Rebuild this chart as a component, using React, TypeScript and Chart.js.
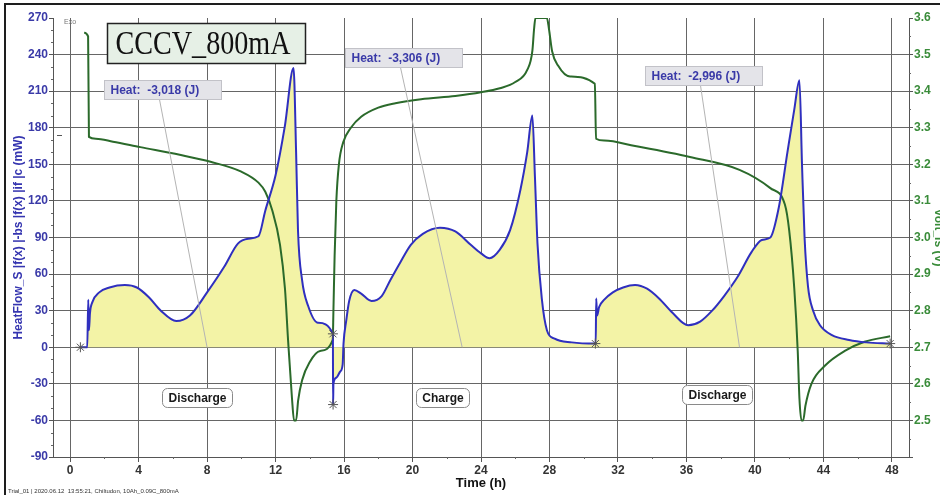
import React, { useEffect, useRef } from 'react';
import { Chart, registerables } from 'chart.js';

Chart.register(...registerables);

// ---- data (hours / mW / V) ----
const heatTime = [
  0.6, 1.0, 1.06, 1.1, 1.16, 1.3, 1.7, 2.3, 3.2, 3.9, 4.6, 5.3, 6.2, 7.0, 8.0, 9.0, 9.8, 10.4, 11.0, 11.4, 12.0, 12.55, 13.05, 13.2, 13.31, 13.55, 13.9, 14.48, 15.35,
  15.36, 15.38, 15.55, 15.77, 15.92, 15.97, 16.13, 16.3, 16.6, 17.0, 17.6, 18.2, 18.7, 19.3, 19.9, 20.6, 21.6, 22.5, 23.4, 24.0, 24.5, 25.1, 25.7, 26.3, 26.7, 27.0, 27.15, 27.3, 27.55, 27.85, 28.3, 29.3, 30.68,
  30.7, 30.73, 30.78, 30.9, 31.2, 31.7, 32.3, 33.0, 33.7, 34.4, 35.2, 36.1, 36.8, 37.5, 38.2, 39.0, 39.8, 40.4, 40.9, 41.4, 41.9, 42.3, 42.6, 42.75, 42.9, 43.1, 43.4, 43.8, 44.5, 45.5, 46.5, 47.9,
];
const heatFlow = [
  0, 0, 39, 14, 28, 37, 45, 49, 51, 49, 41, 30, 21.5, 26, 45, 66, 85, 89, 91, 112, 141, 182, 229, 160, 96, 55, 34, 20, 11,
  -47, -30, -25, -20, -14, 3, 22, 38, 47, 44, 38, 42, 55, 70, 84, 93, 98, 95, 84, 77, 73, 80, 96, 129, 160, 190, 140, 85, 40, 14, 7, 4, 3,
  3, 40, 26, 33, 39, 45, 49, 51, 48, 40, 28, 18, 21, 30, 42, 58, 78, 88, 90, 115, 160, 195, 219, 150, 90, 50, 30, 18, 10, 6, 4, 3,
];
const voltTime = [
  0.82, 1.05, 1.1, 1.5, 2.5, 4.1, 6.4, 8.2, 10, 11, 11.4, 11.8, 12.26, 12.55, 12.73, 12.96, 13.08, 13.2, 13.32, 13.55, 14.0, 14.6, 15.34,
  15.38, 15.45, 15.55, 15.7, 15.95, 16.4, 17.0, 18.0, 19.0, 20.5, 22.5, 24.0, 25.1, 26.0, 26.7, 27.0, 27.1, 27.18, 27.85, 27.97, 28.15, 28.5, 29.2, 30.65,
  30.72, 31.2, 33, 36.2, 39.1, 40.9, 41.75, 42.0, 42.3, 42.5, 42.6, 42.72, 42.82, 42.95, 43.3, 44.1, 45.25, 46.4, 47.9,
];
const voltage = [
  3.56, 3.55, 3.275, 3.27, 3.262, 3.247, 3.226, 3.207, 3.18, 3.15, 3.125, 3.075, 2.98, 2.86, 2.72, 2.56, 2.5, 2.5, 2.555, 2.61, 2.66, 2.69, 2.72,
  2.8, 2.95, 3.1, 3.2, 3.26, 3.3, 3.33, 3.355, 3.367, 3.378, 3.387, 3.397, 3.408, 3.425, 3.458, 3.51, 3.57, 3.6, 3.6, 3.57, 3.51, 3.47, 3.44, 3.42,
  3.27, 3.265, 3.25, 3.22, 3.185, 3.135, 3.09, 3.02, 2.86, 2.69, 2.56, 2.5, 2.5, 2.54, 2.6, 2.65, 2.69, 2.715, 2.73,
];
const markerTime = [0.6, 15.35, 15.36, 30.68, 47.9];
const markerFlow = [0, 11, -47, 3, 3];

const heatNotes = ['Heat:  -3,018 (J)', 'Heat:  -3,306 (J)', 'Heat:  -2,996 (J)'];
const heatNoteX = [2.0, 16.06, 33.58];
const heatNoteY = [219, 245, 231];
const heatLeaderX = [8.0, 22.9, 39.1];

const phaseNames = ['Discharge', 'Charge', 'Discharge'];
const phaseX = [7.42, 21.78, 37.78];
const phaseY = [-41, -41, -39];

const chartTitle = 'CCCV_800mA';
const footerText = 'Trial_01 | 2020.06.12  13:55:21, Chiltudon, 10Ah_0.09C_800mA';
const leftTitle = 'HeatFlow_S |f(x) |-bs |f(x) |if |c (mW)';
const rightTitle = 'Volt_Is (V)';
const xTitle = 'Time (h)';

const SANS = "'Liberation Sans', Arial, sans-serif";

function roundRect(ctx: CanvasRenderingContext2D, x: number, y: number, w: number, h: number, r: number) {
  ctx.beginPath();
  ctx.moveTo(x + r, y);
  ctx.arcTo(x + w, y, x + w, y + h, r);
  ctx.arcTo(x + w, y + h, x, y + h, r);
  ctx.arcTo(x, y + h, x, y, r);
  ctx.arcTo(x, y, x + w, y, r);
  ctx.closePath();
}

const overlay = {
  id: 'overlay',
  beforeDraw(chart: any) {
    const ctx = chart.ctx;
    ctx.save();
    ctx.fillStyle = '#ffffff';
    ctx.fillRect(0, 0, chart.width, chart.height);
    ctx.restore();
  },
  afterDraw(chart: any) {
    const ctx: CanvasRenderingContext2D = chart.ctx;
    const { x, y, y1 } = chart.scales;
    const area = chart.chartArea;
    ctx.save();

    // minor ticks
    ctx.strokeStyle = '#666';
    ctx.lineWidth = 1;
    ctx.beginPath();
    for (let v = -80; v < 270; v += 10) {
      if (v % 30 === 0) continue;
      const py = Math.round(y.getPixelForValue(v)) + 0.5;
      ctx.moveTo(area.left - 2, py);
      ctx.lineTo(area.left, py);
    }
    for (let k = 0; k < 12; k++) {
      const py = Math.round(y1.getPixelForValue(2.45 + k * 0.1)) + 0.5;
      ctx.moveTo(area.right, py);
      ctx.lineTo(area.right + 2, py);
    }
    for (let h = 2; h <= 48; h += 4) {
      const px = Math.round(x.getPixelForValue(h)) + 0.5;
      ctx.moveTo(px, area.bottom);
      ctx.lineTo(px, area.bottom + 2);
    }
    ctx.stroke();

    // heat notes + leader lines
    ctx.font = `bold 12px ${SANS}`;
    ctx.textBaseline = 'middle';
    heatNotes.forEach((t, i) => {
      const bx = Math.round(x.getPixelForValue(heatNoteX[i])) + 0.5;
      const by = Math.round(y.getPixelForValue(heatNoteY[i])) + 0.5;
      const w = Math.round(ctx.measureText(t).width + 28);
      const h = 19;
      ctx.strokeStyle = '#b4b4b4';
      ctx.lineWidth = 1;
      ctx.beginPath();
      ctx.moveTo(bx + 55, by + h);
      ctx.lineTo(x.getPixelForValue(heatLeaderX[i]), y.getPixelForValue(0));
      ctx.stroke();
      ctx.fillStyle = '#e4e4e9';
      ctx.fillRect(bx, by, w, h);
      ctx.strokeStyle = '#c2c2c8';
      ctx.strokeRect(bx, by, w, h);
      ctx.fillStyle = '#3a3aa8';
      ctx.textAlign = 'left';
      ctx.fillText(t, bx + 6, by + h / 2 + 1);
    });

    // phase labels
    phaseNames.forEach((t, i) => {
      const cx = x.getPixelForValue(phaseX[i]);
      const cy = y.getPixelForValue(phaseY[i]);
      const w = Math.round(ctx.measureText(t).width + 12);
      const h = 19;
      const bx = Math.round(cx - w / 2) + 0.5;
      const by = Math.round(cy - h / 2) + 0.5;
      roundRect(ctx, bx, by, w, h, 5);
      ctx.fillStyle = '#ffffff';
      ctx.fill();
      ctx.strokeStyle = '#8a8a8a';
      ctx.lineWidth = 1;
      ctx.stroke();
      ctx.fillStyle = '#1a1a1a';
      ctx.textAlign = 'center';
      ctx.fillText(t, bx + w / 2, by + h / 2 + 1);
    });

    // title box
    {
      const bx = Math.round(x.getPixelForValue(2.16)) + 0.5;
      const by = Math.round(y.getPixelForValue(266)) + 0.5;
      const w = 198, h = 40;
      ctx.fillStyle = '#e6f0e6';
      ctx.fillRect(bx, by, w, h);
      ctx.strokeStyle = '#222';
      ctx.lineWidth = 1.5;
      ctx.strokeRect(bx, by, w, h);
      ctx.font = "33px 'Liberation Serif', 'Times New Roman', serif";
      const tw = ctx.measureText(chartTitle).width;
      const sx = 175 / tw;
      ctx.save();
      ctx.translate(bx + 8, by + h / 2 + 2);
      ctx.scale(sx, 1);
      ctx.fillStyle = '#111';
      ctx.textAlign = 'left';
      ctx.textBaseline = 'middle';
      ctx.fillText(chartTitle, 0, 0);
      ctx.restore();
    }

    // small texts
    ctx.font = `7px ${SANS}`;
    ctx.fillStyle = '#777';
    ctx.textAlign = 'left';
    ctx.textBaseline = 'middle';
    ctx.fillText('Exo', 64, 22);
    ctx.strokeStyle = '#555';
    ctx.lineWidth = 1;
    ctx.beginPath();
    ctx.moveTo(57, 135.5);
    ctx.lineTo(62, 135.5);
    ctx.stroke();

    ctx.font = `6px ${SANS}`;
    ctx.fillStyle = '#333';
    ctx.textBaseline = 'alphabetic';
    ctx.fillText(footerText, 8, 493);

    // outer frame
    ctx.fillStyle = '#1e1e1e';
    ctx.fillRect(4, 3, 936, 2);
    ctx.fillRect(4, 3, 2, 492);

    ctx.restore();
  },
};

export default function App() {
  const ref = useRef<HTMLCanvasElement>(null);
  useEffect(() => {
    document.body.style.margin = '0';
    const canvas = ref.current!;
    const tickFont = { family: SANS, size: 12, weight: 'bold' as const };
    const chart = new Chart(canvas, {
      type: 'line',
      data: {
        datasets: [
          {
            label: 'HeatFlow',
            data: heatTime.map((t, i) => ({ x: t, y: heatFlow[i] })),
            yAxisID: 'y',
            borderColor: '#2f2fbf',
            borderWidth: 2,
            pointRadius: 0,
            fill: 'origin',
            backgroundColor: '#f3f3a6',
            cubicInterpolationMode: 'monotone',
            order: 1,
          },
          {
            label: 'Volt',
            data: voltTime.map((t, i) => ({ x: t, y: voltage[i] })),
            yAxisID: 'y1',
            borderColor: '#2b6a2b',
            borderWidth: 2,
            pointRadius: 0,
            fill: false,
            cubicInterpolationMode: 'monotone',
            order: 2,
          },
          {
            label: 'Markers',
            data: markerTime.map((t, i) => ({ x: t, y: markerFlow[i] })),
            yAxisID: 'y',
            showLine: false,
            pointStyle: 'star',
            pointRadius: 5,
            borderColor: '#555',
            borderWidth: 1,
            backgroundColor: '#555',
            order: 0,
          },
        ],
      },
      options: {
        responsive: false,
        animation: false,
        devicePixelRatio: 1,
        layout: { padding: { top: 18, left: 0, right: 0, bottom: 0 } },
        plugins: {
          legend: { display: false },
          tooltip: { enabled: false },
          filler: { drawTime: 'beforeDatasetsDraw' },
        } as any,
        scales: {
          x: {
            type: 'linear',
            min: -1,
            max: 49,
            ticks: { stepSize: 4, includeBounds: false, autoSkip: false, maxRotation: 0, font: tickFont, color: '#333', padding: 1 },
            grid: { color: '#666', tickColor: '#555', tickLength: 5 },
            border: { color: '#555' },
            title: { display: true, text: xTitle, color: '#111', font: { family: SANS, size: 13, weight: 'bold' }, padding: { top: 0, bottom: 4 } },
            afterFit: (s: any) => { s.height = 38; },
          },
          y: {
            position: 'left',
            min: -90,
            max: 270,
            ticks: { stepSize: 30, autoSkip: false, font: tickFont, color: '#3a3aa8', padding: 1 },
            grid: {
              color: (c: any) => (c.tick && c.tick.value === 270 ? 'rgba(0,0,0,0)' : '#666'),
              tickColor: '#555',
              tickLength: 4,
            },
            border: { color: '#555' },
            title: { display: true, text: leftTitle, color: '#3535b0', font: { family: SANS, size: 12, weight: 'bold' }, padding: { top: 11, bottom: 0 } },
            afterFit: (s: any) => { s.width = 53; },
          },
          y1: {
            position: 'right',
            min: 2.4,
            max: 3.6,
            ticks: {
              stepSize: 0.1,
              autoSkip: false,
              font: tickFont,
              color: '#3a8c3a',
              padding: 1,
              callback: (v: any) => (Math.abs(Number(v) - 2.4) < 1e-6 ? '' : Number(v).toFixed(1)),
            },
            grid: { drawOnChartArea: false, tickLength: 4, color: '#555' },
            border: { color: '#555' },
            title: { display: true, text: rightTitle, color: '#3a8c3a', font: { family: SANS, size: 12, weight: 'bold', lineHeight: 0.3 }, padding: 0 },
            afterFit: (s: any) => { s.width = 31; },
          },
        } as any,
      },
      plugins: [overlay],
    });
    return () => chart.destroy();
  }, []);
  return (
    <div style={{ position: 'fixed', left: 0, top: 0, width: 940, height: 495, background: '#fff' }}>
      <canvas ref={ref} width={940} height={495} style={{ display: 'block', width: 940, height: 495 }} />
    </div>
  );
}
